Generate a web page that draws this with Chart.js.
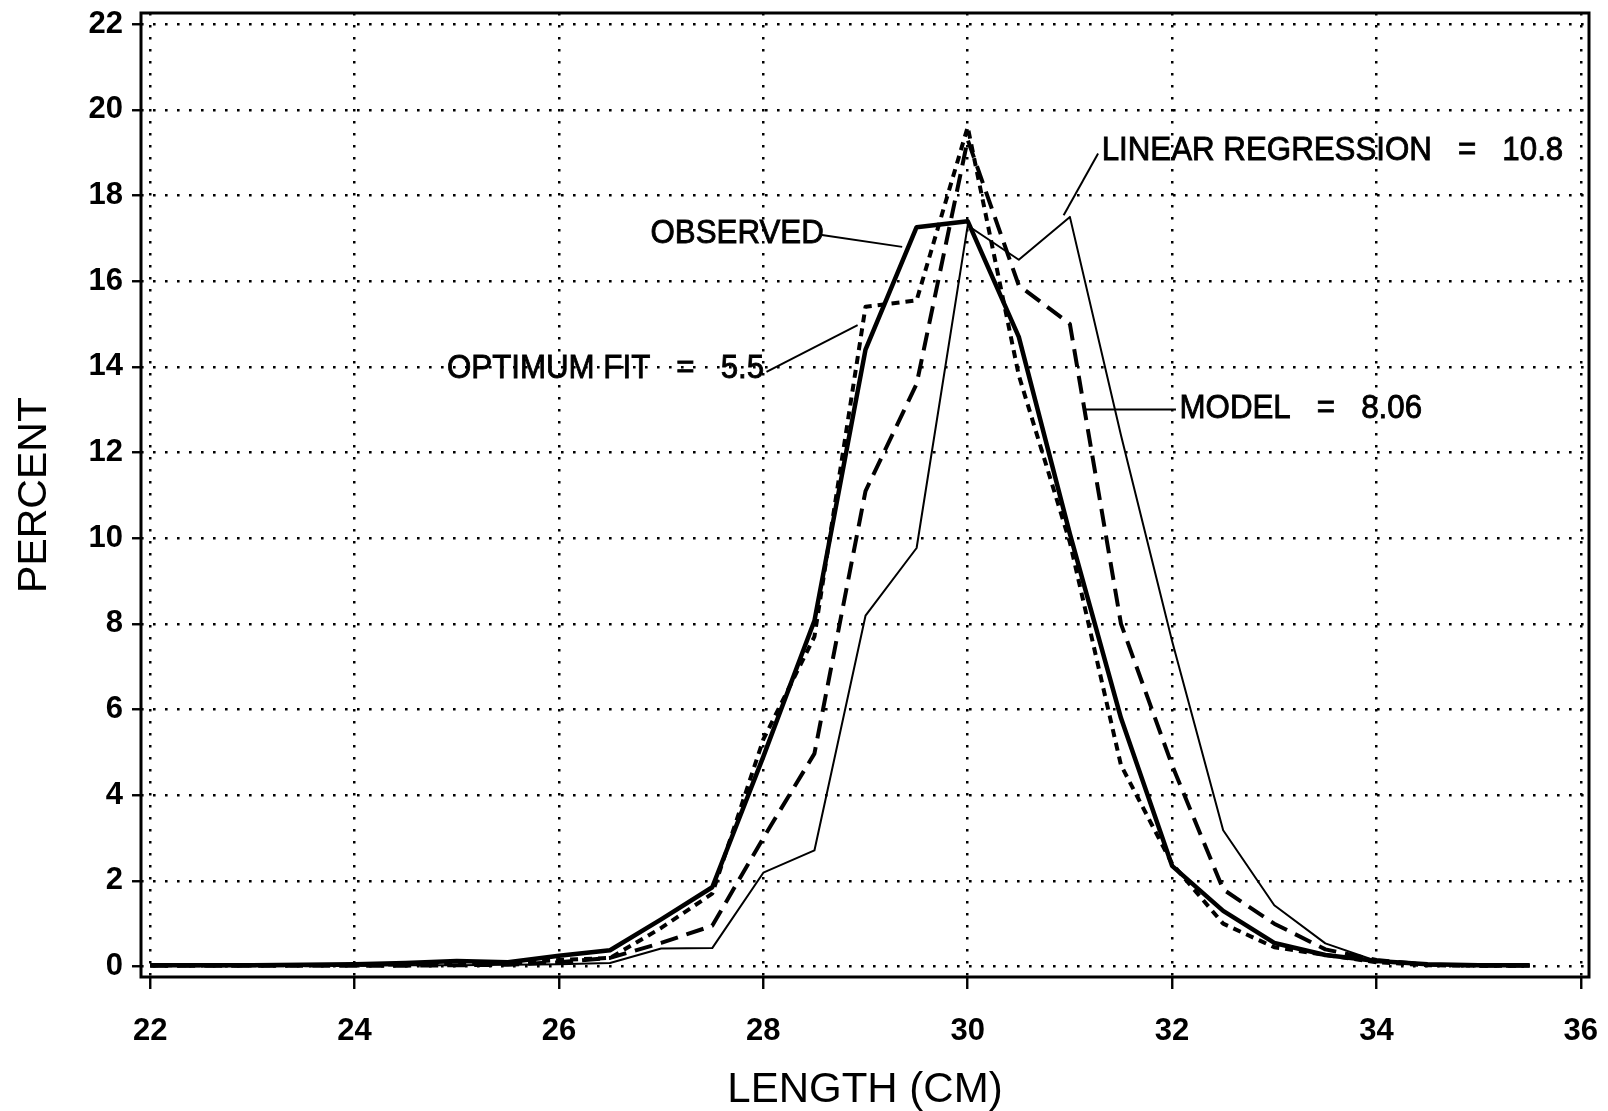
<!DOCTYPE html>
<html>
<head>
<meta charset="utf-8">
<title>Length frequency</title>
<script src="https://cdn.jsdelivr.net/npm/chart.js@4.4.1/dist/chart.umd.min.js"></script>
<style>
  html, body { margin: 0; padding: 0; background: #fff; }
  #wrap { width: 1608px; height: 1111px; }
</style>
</head>
<body>
<div id="wrap"><canvas id="chart" width="1608" height="1111"></canvas></div>
<script>
// Length classes (cm)
const lengths = [22, 22.5, 23, 23.5, 24, 24.5, 25, 25.5, 26, 26.5, 27, 27.5, 28, 28.5,
                 29, 29.5, 30, 30.5, 31, 31.5, 32, 32.5, 33, 33.5, 34, 34.5, 35, 35.5];

// Percent at each length class
const observed = [0.03, 0.03, 0.03, 0.04, 0.05, 0.08, 0.13, 0.10, 0.25, 0.38, 1.10, 1.85, 4.90, 8.07,
                  14.40, 17.26, 17.40, 14.70, 10.10, 5.80, 2.35, 1.30, 0.55, 0.27, 0.13, 0.05, 0.03, 0.03];
const linearRegression = [0.02, 0.02, 0.02, 0.02, 0.02, 0.03, 0.03, 0.04, 0.05, 0.08, 0.42, 0.43, 2.19, 2.71,
                          8.19, 9.77, 17.30, 16.50, 17.50, 12.40, 7.60, 3.18, 1.43, 0.54, 0.13, 0.04, 0.02, 0.02];
const model = [0.02, 0.02, 0.02, 0.02, 0.02, 0.02, 0.03, 0.04, 0.10, 0.20, 0.55, 0.95, 3.00, 4.97,
               11.10, 13.60, 19.30, 15.90, 15.00, 8.00, 4.70, 1.80, 1.00, 0.40, 0.15, 0.04, 0.02, 0.02];
const optimumFit = [0.03, 0.03, 0.03, 0.03, 0.04, 0.05, 0.07, 0.08, 0.15, 0.20, 0.90, 1.70, 5.30, 7.70,
                    15.40, 15.55, 19.60, 13.80, 9.90, 4.70, 2.40, 1.00, 0.45, 0.27, 0.10, 0.03, 0.02, 0.02];

const xTicks = [22, 24, 26, 28, 30, 32, 34, 36];
const yTicks = [0, 2, 4, 6, 8, 10, 12, 14, 16, 18, 20, 22];

// Curve labels and their leader lines, in data units
const labelTexts = ['OBSERVED', 'OPTIMUM FIT   =   5.5', 'LINEAR REGRESSION   =   10.8', 'MODEL   =   8.06'];
const labelAnchors = [[26.896, 17.115], [24.904, 13.947], [31.311, 19.036], [32.073, 13.03]];
const leaderLines = [
    [28.573, 17.075, 29.359, 16.80],
    [28.031, 13.884, 28.923, 14.974],
    [31.276, 18.98, 30.939, 17.54],
    [32.038, 13.006, 31.134, 13.006]
];

const FONT = "'Liberation Sans', Arial, Helvetica, sans-serif";
Chart.defaults.font.family = FONT;
Chart.defaults.color = '#000';

function toPoints(values) {
    return values.map((v, i) => ({ x: lengths[i], y: v }));
}

// Frame around the plot area
const framePlugin = {
    id: 'frame',
    afterDatasetsDraw(chart) {
        const { ctx, chartArea: a } = chart;
        ctx.save();
        ctx.strokeStyle = '#000';
        ctx.lineWidth = 3;
        ctx.strokeRect(a.left, a.top, a.right - a.left, a.bottom - a.top);
        ctx.restore();
    }
};

// Text labels with leader lines
const labelPlugin = {
    id: 'curveLabels',
    afterDatasetsDraw(chart) {
        const { ctx, scales: { x, y } } = chart;
        ctx.save();
        ctx.strokeStyle = '#000';
        ctx.fillStyle = '#000';
        ctx.lineWidth = 2;
        leaderLines.forEach(l => {
            ctx.beginPath();
            ctx.moveTo(x.getPixelForValue(l[0]), y.getPixelForValue(l[1]));
            ctx.lineTo(x.getPixelForValue(l[2]), y.getPixelForValue(l[3]));
            ctx.stroke();
        });
        ctx.font = '34px ' + FONT;
        ctx.textAlign = 'left';
        ctx.textBaseline = 'middle';
        ctx.lineWidth = 0.9;
        labelTexts.forEach((t, i) => {
            ctx.save();
            ctx.translate(x.getPixelForValue(labelAnchors[i][0]), y.getPixelForValue(labelAnchors[i][1]));
            ctx.scale(0.92, 1);
            ctx.fillText(t, 0, 0);
            ctx.strokeText(t, 0, 0);
            ctx.restore();
        });
        ctx.restore();
    }
};

const lineBase = { pointRadius: 0, pointHoverRadius: 0, tension: 0, fill: false,
                   borderColor: '#000', borderJoinStyle: 'round', borderCapStyle: 'butt' };

new Chart(document.getElementById('chart'), {
    type: 'line',
    data: {
        datasets: [
            Object.assign({}, lineBase, { label: 'LINEAR REGRESSION', data: toPoints(linearRegression), borderWidth: 2 }),
            Object.assign({}, lineBase, { label: 'MODEL', data: toPoints(model), borderWidth: 4, borderDash: [18, 9] }),
            Object.assign({}, lineBase, { label: 'OPTIMUM FIT', data: toPoints(optimumFit), borderWidth: 4, borderDash: [8, 6] }),
            Object.assign({}, lineBase, { label: 'OBSERVED', data: toPoints(observed), borderWidth: 4.5 })
        ]
    },
    options: {
        responsive: false,
        animation: false,
        devicePixelRatio: 1,
        layout: { padding: { top: 13, right: 19, left: 0, bottom: 0 } },
        plugins: {
            legend: { display: false },
            tooltip: { enabled: false }
        },
        scales: {
            x: {
                type: 'linear',
                min: 21.91,
                max: 36.08,
                afterBuildTicks: s => { s.ticks = xTicks.map(v => ({ value: v })); },
                afterFit: s => { s.height = 134; s.paddingLeft = 0; s.paddingRight = 0; },
                grid: { color: '#000', lineWidth: 2.5, tickLength: 12, tickColor: '#000', tickWidth: 2.4, tickBorderDash: [] },
                border: { display: false, dash: [2.6, 9.4] },
                ticks: { color: '#000', font: { size: 31, weight: 'bold' }, padding: 24, maxRotation: 0, autoSkip: false },
                title: { display: true, text: 'LENGTH (CM)', color: '#000',
                         font: { size: 42, lineHeight: 1 }, padding: { top: 0, bottom: 0 } }
            },
            y: {
                min: -0.245,
                max: 22.26,
                afterBuildTicks: s => { s.ticks = yTicks.map(v => ({ value: v })); },
                afterFit: s => { s.width = 141; s.paddingTop = 0; s.paddingBottom = 0; },
                grid: { color: '#000', lineWidth: 2.5, tickLength: 9, tickColor: '#000', tickWidth: 2.4, tickBorderDash: [] },
                border: { display: false, dash: [2.6, 9.4] },
                ticks: { color: '#000', font: { size: 31, weight: 'bold' }, padding: 9, autoSkip: false },
                title: { display: true, text: 'PERCENT', color: '#000',
                         font: { size: 41, lineHeight: 1 }, padding: { top: 14, bottom: 0 } }
            }
        }
    },
    plugins: [framePlugin, labelPlugin]
});
</script>
</body>
</html>
